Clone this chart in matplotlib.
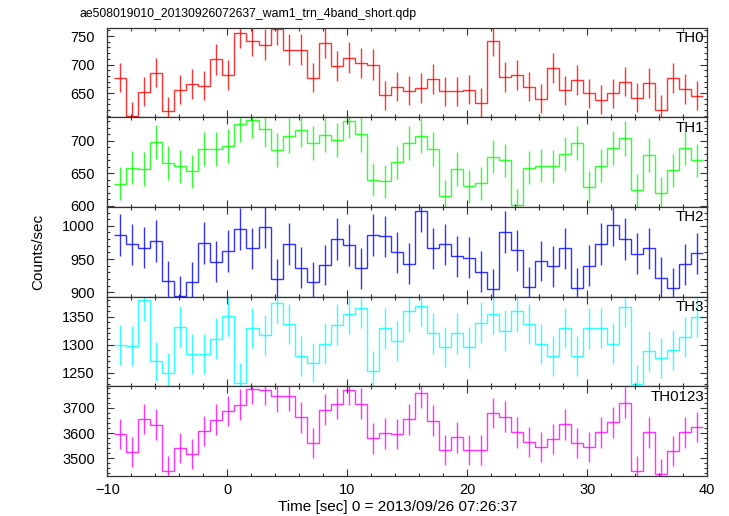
import numpy as np
import matplotlib
matplotlib.use("Agg")
import matplotlib.pyplot as plt
from matplotlib.ticker import MultipleLocator

plt.rcParams['font.family'] = ['Liberation Sans', 'DejaVu Sans']

# bin centres (1 s bins), time relative to 2013/09/26 07:26:37
t_first = -8.9
n_bins = 49
bin_width = 1.0

th0 = [677, 610, 652, 686, 618, 656, 666, 663, 709, 681, 756, 742, 735, 762,
       726, 726, 677, 738, 698, 712, 703, 700, 646, 661, 654, 659, 675, 653,
       653, 656, 633, 742, 678, 681, 661, 640, 694, 655, 673, 650, 638, 650,
       670, 642, 668, 621, 676, 657, 645]
th1 = [634, 659, 657, 698, 666, 661, 653, 688, 687, 692, 726, 732, 718, 686,
       708, 717, 697, 709, 701, 731, 710, 640, 638, 667, 697, 708, 687, 615,
       657, 630, 635, 676, 670, 601, 659, 662, 661, 680, 697, 629, 662, 689,
       704, 624, 679, 620, 655, 689, 670]
th2 = [986, 972, 967, 977, 917, 895, 915, 974, 946, 962, 995, 966, 999, 920,
       973, 937, 916, 941, 980, 971, 936, 986, 984, 960, 943, 1023, 966, 972,
       954, 952, 931, 905, 991, 963, 908, 947, 939, 966, 906, 940, 973, 1002,
       980, 958, 966, 922, 907, 942, 959]
th3 = [1299, 1297, 1380, 1270, 1250, 1332, 1284, 1284, 1311, 1352, 1232, 1330,
       1317, 1375, 1337, 1280, 1268, 1302, 1336, 1355, 1366, 1253, 1329, 1307,
       1360, 1370, 1320, 1296, 1320, 1295, 1339, 1355, 1325, 1360, 1337, 1301,
       1280, 1330, 1280, 1329, 1330, 1302, 1368, 1229, 1289, 1276, 1291, 1314,
       1350]
th0123 = [3596, 3525, 3657, 3634, 3449, 3543, 3517, 3608, 3654, 3688, 3713,
          3776, 3772, 3746, 3749, 3663, 3560, 3693, 3717, 3772, 3717, 3579,
          3599, 3596, 3655, 3760, 3650, 3535, 3583, 3532, 3535, 3680, 3666,
          3603, 3564, 3547, 3576, 3635, 3560, 3547, 3603, 3643, 3721, 3450,
          3603, 3437, 3528, 3603, 3624]

names = ["TH0", "TH1", "TH2", "TH3", "TH0123"]
colors = ["#ff0000", "#00ff00", "#0000ff", "#00ffff", "#ff00ff"]
ylims = [(607.6, 765), (598.5, 736.5), (893.5, 1028.5), (1225.5, 1386), (3430, 3786)]
major_y = [50, 50, 50, 50, 100]
minor_y = [10, 10, 10, 10, 20]

series = [th0, th1, th2, th3, th0123]

centers = t_first + np.arange(n_bins) * bin_width
edges = np.append(centers - bin_width / 2, centers[-1] + bin_width / 2)

fig = plt.figure(figsize=(7.29, 5.16), dpi=100)
left, right = 107.3 / 729, 707.3 / 729
top, bottom = 1 - 27.5 / 516, 1 - 476 / 516
h = (top - bottom) / 5

axes = []
for k in range(5):
    ax = fig.add_axes([left, top - (k + 1) * h, right - left, h])
    axes.append(ax)
    vals = np.array(series[k], dtype=float)
    err = np.sqrt(vals * bin_width) / bin_width  # poisson errors
    ax.stairs(vals, edges, baseline=None, color=colors[k], lw=1.0, alpha=0.8)
    ax.errorbar(centers, vals, yerr=err, fmt='none', ecolor=colors[k],
                elinewidth=1.0, alpha=0.8)
    ax.set_xlim(-10, 40)
    ax.set_ylim(*ylims[k])
    ax.xaxis.set_major_locator(MultipleLocator(10))
    ax.xaxis.set_minor_locator(MultipleLocator(2))
    ax.yaxis.set_major_locator(MultipleLocator(major_y[k]))
    ax.yaxis.set_minor_locator(MultipleLocator(minor_y[k]))
    ax.tick_params(which='both', direction='in', top=True, right=True,
                   labelsize=10.5, width=0.8, color='#333333')
    ax.tick_params(which='major', length=5)
    ax.tick_params(which='minor', length=2.5)
    ax.tick_params(axis='y', pad=9)
    ax.tick_params(axis='x', pad=5)
    for s in ax.spines.values():
        s.set_linewidth(0.9)
        s.set_color('#333333')
    if k < 4:
        ax.tick_params(labelbottom=False)
    ax.text(0.995, 0.96, names[k], transform=ax.transAxes, ha='right',
            va='top', fontsize=10.8)

axes[-1].set_xticks([-10, 0, 10, 20, 30, 40])
axes[-1].set_xticklabels(["\u221210", "0", "10", "20", "30", "40"])

fig.text(79 / 729, 1 - 17.5 / 516,
         "ae508019010_20130926072637_wam1_trn_4band_short.qdp",
         ha='left', va='baseline', fontsize=8.8)
fig.text(398 / 729, 1 - 507 / 516, "Time [sec] 0 = 2013/09/26 07:26:37",
         ha='center', va='center', fontsize=11)
fig.text(38 / 729, 1 - 252 / 516, "Counts/sec", rotation=90,
         ha='center', va='center', fontsize=11)

fig.savefig("out.png", dpi=100)
